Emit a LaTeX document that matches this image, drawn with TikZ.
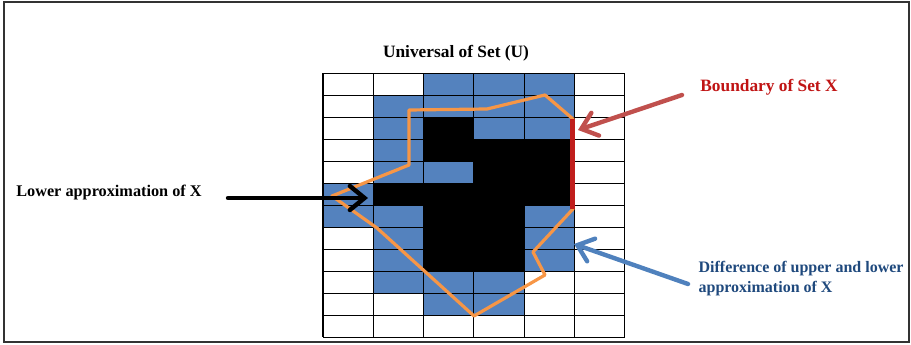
\documentclass[tikz,border=0pt]{standalone}
\usepackage{fontspec}
\setmainfont{Liberation Serif}
\usetikzlibrary{arrows.meta, positioning, calc}

\definecolor{cellblue}{RGB}{84,130,190}
\definecolor{polyorange}{RGB}{247,150,70}
\definecolor{bndred}{RGB}{192,30,28}
\definecolor{arrred}{RGB}{192,80,77}
\definecolor{arrblue}{RGB}{79,129,189}
\definecolor{txtred}{RGB}{192,20,20}
\definecolor{txtblue}{RGB}{31,73,125}

\tikzset{
  labeltext/.style={font=\bfseries\fontsize{12.2}{15}\selectfont, inner sep=1pt},
  pointer/.style={line width=3.3pt, line cap=round, -{Straight Barb[length=11pt, width=18pt, line cap=round]}},
}

\begin{document}
\begin{tikzpicture}[x=0.75pt, y=-0.75pt]
  \useasboundingbox (0,0) rectangle (911,345);
  \draw[line width=1.4pt, black!80] (4,2) rectangle (909,342);
  % universe grid, 6 x 12 cells
  \begin{scope}[shift={(323,73.3)}, x=37.725pt, y=-16.5pt]
    \foreach \c/\r in {2/0,3/0,4/0, 1/1,2/1,3/1,4/1, 1/2,3/2,4/2, 1/3, 1/4,2/4,
                       0/5, 0/6,1/6,4/6, 1/7,4/7, 1/8,4/8, 1/9,2/9,3/9, 2/10,3/10}
      \fill[cellblue] (\c,\r) rectangle ++(1,1);
    \foreach \c/\r in {2/2, 2/3,3/3,4/3, 3/4,4/4, 1/5,2/5,3/5,4/5, 2/6,3/6, 2/7,3/7, 2/8,3/8}
      \fill[black] (\c,\r) rectangle ++(1,1);
    \foreach \c in {0,...,6}
      \draw[line width=0.8pt] (\c,0) -- (\c,12);
    \foreach \r in {0,...,12}
      \draw[line width=0.8pt] (0,\r) -- (6,\r);
  \end{scope}
  % set X
  \draw[polyorange, line width=2.4pt, line join=round]
    (409,110) -- (487,109) -- (545,95) -- (573,119) -- (573,209) -- (533,252)
    -- (545,275) -- (474,316) -- (377,228) -- (332,196) -- (409,165) -- cycle;
  \draw[bndred, line width=3.75pt] (572.5,119) -- (572.5,209);
  % labels
  \node[labeltext, font=\bfseries\fontsize{13}{15}\selectfont] (universe) at (456,53) {Universal of Set (U)};
  \node[labeltext, text=txtred, font=\bfseries\fontsize{13}{15}\selectfont] (boundary) at (769,87) {Boundary of Set X};
  \node[labeltext] (lower) at (109,193) {Lower approximation of X};
  \node[labeltext, text=txtblue, align=left, anchor=west, font=\bfseries\fontsize{12}{15}\selectfont] (diff) at (697,279) {Difference of upper and lower\\approximation of X};
  % pointers
  \coordinate (lowtail) at (228,198);
  \coordinate (lowtip) at (368,198);
  \coordinate (bndtail) at (682,95);
  \coordinate (bndtip) at (578,130);
  \coordinate (difftail) at (688,284);
  \coordinate (difftip) at (574,244);
  \draw[pointer, black] (lowtail) -- (lowtip);
  \draw[pointer, arrred] (bndtail) -- (bndtip);
  \draw[pointer, arrblue] (difftail) -- (difftip);
\end{tikzpicture}
\end{document}
